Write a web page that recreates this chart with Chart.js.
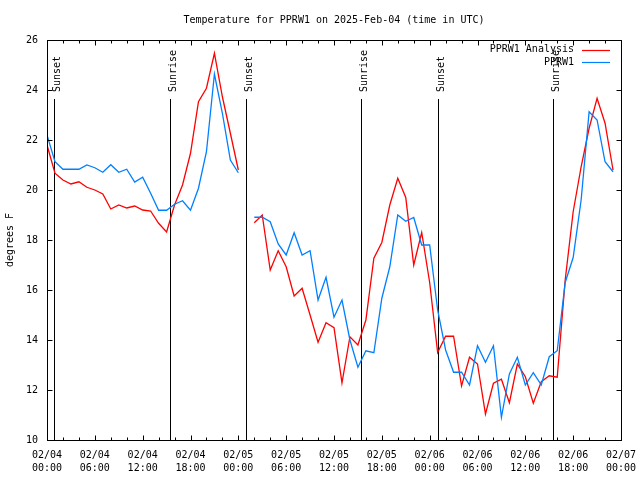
<!DOCTYPE html>
<html lang="en">
<head>
<meta charset="UTF-8">
<title>Temperature for PPRW1</title>
<script src="https://cdn.jsdelivr.net/npm/chart.js"></script>
<style>
    body { margin: 0; background: #fff; }
    canvas { display: block; }
</style>
</head>
<body>
<canvas id="tempChart" width="640" height="480"></canvas>
<script>
// hours since 2025-02-04 00:00 UTC
const hours = [0, 1, 2, 3, 4, 5, 6, 7, 8, 9, 10, 11, 12, 13, 14, 15, 16, 17, 18, 19, 20, 21, 22, 23,
    24, 25, 26, 27, 28, 29, 30, 31, 32, 33, 34, 35, 36, 37, 38, 39, 40, 41, 42, 43, 44, 45, 46, 47,
    48, 49, 50, 51, 52, 53, 54, 55, 56, 57, 58, 59, 60, 61, 62, 63, 64, 65, 66, 67, 68, 69, 70, 71];

const analysisTemps = [21.8, 20.67, 20.4, 20.24, 20.33, 20.11, 20.0, 19.84, 19.24, 19.4, 19.28, 19.36,
    19.2, 19.16, 18.67, 18.32, 19.4, 20.2, 21.47, 23.53, 24.07, 25.47, 23.73, 22.27,
    20.8, null, 18.69, 19.0, 16.8, 17.57, 16.93, 15.76, 16.07, 15.0, 13.91, 14.69,
    14.49, 12.29, 14.13, 13.8, 14.8, 17.27, 17.9, 19.4, 20.47, 19.7, 17.0, 18.3,
    16.3, 13.5, 14.15, 14.15, 12.16, 13.31, 13.04, 11.04, 12.27, 12.43, 11.49, 13.04,
    12.53, 11.47, 12.33, 12.57, 12.51, 16.4, 19.13, 20.93, 22.47, 23.67, 22.67, 20.8];

const obsTemps = [22.2, 21.13, 20.83, 20.83, 20.83, 21.0, 20.89, 20.71, 21.01, 20.71, 20.83, 20.32,
    20.51, 19.87, 19.19, 19.19, 19.43, 19.57, 19.19, 20.07, 21.53, 24.64, 23.07, 21.2,
    20.69, null, 18.91, 18.91, 18.73, 17.84, 17.4, 18.29, 17.4, 17.57, 15.6, 16.51,
    14.91, 15.6, 14.0, 12.91, 13.57, 13.49, 15.67, 16.93, 19.0, 18.75, 18.9, 17.8,
    17.8, 15.2, 13.6, 12.71, 12.71, 12.2, 13.77, 13.11, 13.77, 10.91, 12.64, 13.31,
    12.2, 12.69, 12.2, 13.33, 13.57, 16.3, 17.3, 19.6, 23.13, 22.8, 21.13, 20.73];

const xTickDates = ['02/04', '02/04', '02/04', '02/04', '02/05', '02/05', '02/05', '02/05',
    '02/06', '02/06', '02/06', '02/06', '02/07'];
const xTickTimes = ['00:00', '06:00', '12:00', '18:00', '00:00', '06:00', '12:00', '18:00',
    '00:00', '06:00', '12:00', '18:00', '00:00'];

const sunTimes = [0.92, 15.47, 24.97, 39.4, 49.1, 63.5];
const sunLabels = ['Sunset', 'Sunrise', 'Sunset', 'Sunrise', 'Sunset', 'Sunrise'];

const seriesNames = ['PPRW1 Analysis', 'PPRW1'];
const seriesColors = ['#ff0000', '#0080ff'];

const monoFont = "'DejaVu Sans Mono', 'Liberation Mono', monospace";
Chart.defaults.font.family = monoFont;
Chart.defaults.font.size = 10;
Chart.defaults.color = '#000';

function toPoints(vals) {
    return hours.map((h, i) => ({ x: h, y: vals[i] }));
}

// gnuplot-like frame, inside ticks, sun lines, legend and title
const gnuplotDecor = {
    id: 'gnuplotDecor',
    beforeDatasetsDraw(chart) {
        const { ctx, chartArea, scales } = chart;
        ctx.save();
        ctx.strokeStyle = '#000';
        ctx.lineWidth = 1;
        ctx.fillStyle = '#000';
        ctx.font = '10px ' + monoFont;
        sunTimes.forEach((t, i) => {
            const x = Math.round(scales.x.getPixelForValue(t)) + 0.5;
            ctx.beginPath();
            ctx.moveTo(x, chartArea.top + 59);
            ctx.lineTo(x, chartArea.bottom);
            ctx.stroke();
            ctx.save();
            ctx.translate(x + 5.5, chartArea.top + 52);
            ctx.rotate(-Math.PI / 2);
            ctx.textAlign = 'left';
            ctx.textBaseline = 'alphabetic';
            ctx.fillText(sunLabels[i], 0, 0);
            ctx.restore();
        });
        ctx.restore();
    },
    afterDraw(chart) {
        const { ctx, chartArea, scales } = chart;
        const l = Math.round(chartArea.left) + 0.5;
        const r = Math.round(chartArea.right) + 0.5;
        const t = Math.round(chartArea.top) + 0.5;
        const b = Math.round(chartArea.bottom) + 0.5;
        ctx.save();
        ctx.strokeStyle = '#000';
        ctx.lineWidth = 1;
        ctx.strokeRect(l, t, r - l, b - t);

        ctx.beginPath();
        for (let h = 0; h <= 72; h += 2) {
            const x = Math.round(scales.x.getPixelForValue(h)) + 0.5;
            const len = h % 6 === 0 ? 5 : 3;
            ctx.moveTo(x, b); ctx.lineTo(x, b - len);
            ctx.moveTo(x, t); ctx.lineTo(x, t + len);
        }
        for (let v = 10; v <= 26; v += 2) {
            const y = Math.round(scales.y.getPixelForValue(v)) + 0.5;
            ctx.moveTo(l, y); ctx.lineTo(l + 5, y);
            ctx.moveTo(r, y); ctx.lineTo(r - 5, y);
        }
        ctx.stroke();

        // legend
        ctx.font = '10px ' + monoFont;
        ctx.fillStyle = '#000';
        ctx.textAlign = 'right';
        ctx.textBaseline = 'middle';
        seriesNames.forEach((name, i) => {
            const y = chartArea.top + 9.5 + i * 12.5;
            ctx.fillText(name, chartArea.left + 527, y);
            ctx.strokeStyle = seriesColors[i];
            ctx.lineWidth = 1.2;
            ctx.beginPath();
            ctx.moveTo(chartArea.left + 535, Math.round(y) + 0.5);
            ctx.lineTo(chartArea.left + 563, Math.round(y) + 0.5);
            ctx.stroke();
        });

        // title
        ctx.textAlign = 'center';
        ctx.fillText('Temperature for PPRW1 on 2025-Feb-04 (time in UTC)',
            (chartArea.left + chartArea.right) / 2, 20);
        ctx.restore();
    }
};

new Chart(document.getElementById('tempChart'), {
    type: 'line',
    data: {
        datasets: [{
            label: seriesNames[0],
            data: toPoints(analysisTemps),
            borderColor: seriesColors[0],
            borderWidth: 1.3,
            pointRadius: 0,
            tension: 0,
            spanGaps: false,
            order: 1
        }, {
            label: seriesNames[1],
            data: toPoints(obsTemps),
            borderColor: seriesColors[1],
            borderWidth: 1.3,
            pointRadius: 0,
            tension: 0,
            spanGaps: false,
            order: 0
        }]
    },
    options: {
        responsive: false,
        animation: false,
        layout: { padding: { top: 40, right: 19, left: 0, bottom: 0 } },
        plugins: {
            legend: { display: false },
            tooltip: { enabled: false },
            title: { display: false }
        },
        scales: {
            x: {
                type: 'linear',
                min: 0,
                max: 72,
                grid: { display: false, drawTicks: false },
                border: { display: false },
                afterFit(scale) {
                    scale.height = 40;
                    scale.paddingLeft = 0;
                    scale.paddingRight = 0;
                },
                ticks: {
                    stepSize: 6,
                    autoSkip: false,
                    maxRotation: 0,
                    padding: 9,
                    font: { size: 10, lineHeight: 1.3 },
                    callback(value) {
                        const i = Math.round(value / 6);
                        return [xTickDates[i], xTickTimes[i]];
                    }
                }
            },
            y: {
                min: 10,
                max: 26,
                grid: { display: false, drawTicks: false },
                border: { display: false },
                afterFit(scale) {
                    scale.width = 47;
                    scale.paddingTop = 0;
                    scale.paddingBottom = 0;
                },
                title: {
                    display: true,
                    text: 'degrees F',
                    font: { size: 10, lineHeight: 1.2 },
                    padding: { top: 4, bottom: 0 }
                },
                ticks: {
                    stepSize: 2,
                    padding: 9,
                    font: { size: 10 }
                }
            }
        }
    },
    plugins: [gnuplotDecor]
});
</script>
</body>
</html>
